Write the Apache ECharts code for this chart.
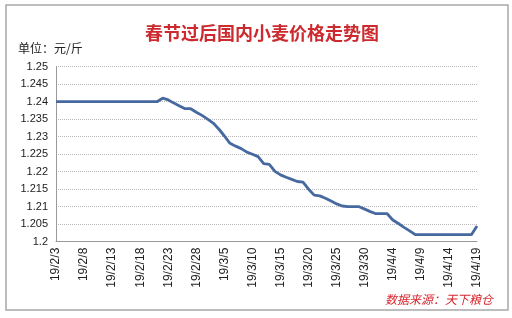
<!DOCTYPE html>
<html><head><meta charset="utf-8">
<script src="https://cdn.jsdelivr.net/npm/echarts@6/dist/echarts.min.js"></script>
<style>html,body{margin:0;padding:0;background:#fff}#c{width:512px;height:318px}</style>
</head><body><div id="c"></div>
<script>
var titleText = '春节过后国内小麦价格走势图';
var unitText = '单位：元/斤';
var sourceText = '数据来源：天下粮仓';
var monthDays = [[2, 3, 28], [3, 1, 31], [4, 1, 19]];
var categories = [];
monthDays.forEach(function (m) { for (var d = m[1]; d <= m[2]; d++) categories.push('19/' + m[0] + '/' + d); });
var prices = [
  1.24,1.24,1.24,1.24,1.24,1.24,1.24,1.24,1.24,1.24,
  1.24,1.24,1.24,1.24,1.24,1.24,1.24,1.24,1.24,1.241,
  1.2405,1.2396,1.2388,1.238,1.238,1.237,1.2361,1.235,1.2339,1.2322,
  1.2302,1.2281,1.2273,1.2266,1.2256,1.225,1.2243,1.2223,1.2221,1.2201,
  1.2191,1.2184,1.2178,1.2172,1.217,1.215,1.2133,1.2131,1.2124,1.2116,
  1.2108,1.2102,1.21,1.21,1.21,1.2093,1.2086,1.208,1.208,1.208,
  1.2062,1.2052,1.2041,1.2031,1.202,1.202,1.202,1.202,1.202,1.202,
  1.202,1.202,1.202,1.202,1.202,1.2045
];
var yMin = 1.2, yMax = 1.25, yStep = 0.005;

var chart = echarts.init(document.getElementById('c'), null, {renderer: 'canvas'});
chart.setOption({
  animation: false,
  backgroundColor: '#fff',
  grid: {left: 56, right: 35, top: 66.7, bottom: 76.3, containLabel: false},
  xAxis: {
    type: 'category', data: categories, boundaryGap: false,
    axisLine: {lineStyle: {color: '#9a9a9a', width: 1}},
    axisTick: {show: false},
    axisLabel: {interval: 4, rotate: 90, fontSize: 12, color: '#222', fontFamily: 'Liberation Sans', margin: 6}
  },
  yAxis: {
    type: 'value', min: yMin, max: yMax, interval: yStep,
    axisLine: {show: true, lineStyle: {color: '#9a9a9a', width: 1}},
    axisTick: {show: false},
    axisLabel: {fontSize: 11, color: '#222', fontFamily: 'Liberation Sans', margin: 8,
      formatter: function (v) { return String(parseFloat(v.toFixed(3))); }},
    splitLine: {show: true, lineStyle: {color: '#b8b8b8', type: 'dotted', width: 1}}
  },
  series: [{
    type: 'line', data: prices, showSymbol: false, symbol: 'none',
    lineStyle: {color: '#46699f', width: 2.8}
  }],
  graphic: [
    {type: 'rect', shape: {x: 6, y: 5, width: 502, height: 305}, style: {fill: 'none', stroke: '#a8a8a8', lineWidth: 1.5}, z: -1},
    {type: 'text', x: 262, y: 33, style: {text: titleText, fill: '#cc2a2e', font: 'bold 18px "Noto Sans CJK SC"', textAlign: 'center', textVerticalAlign: 'middle'}},
    {type: 'text', x: 18, y: 48, style: {text: unitText, fill: '#222', font: '12px "Noto Sans CJK SC"', textAlign: 'left', textVerticalAlign: 'middle'}},
    {type: 'text', x: 493, y: 299, style: {text: sourceText, fill: '#d8262c', font: 'italic 12px "Noto Sans CJK SC"', textAlign: 'right', textVerticalAlign: 'middle'}}
  ]
});
</script></body></html>
